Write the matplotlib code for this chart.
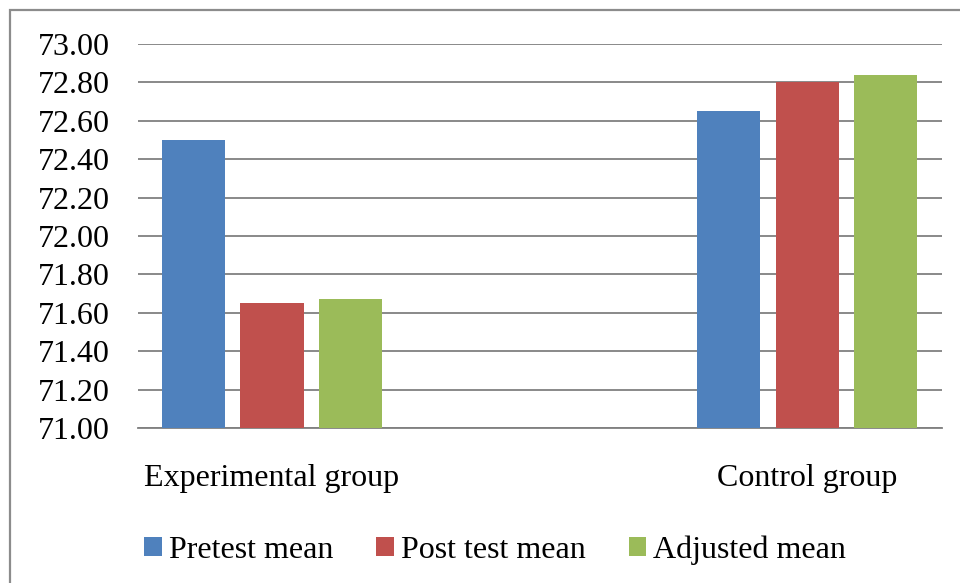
import matplotlib
matplotlib.use("Agg")
import matplotlib.pyplot as plt
import matplotlib.patches as mpatches
import numpy as np

groups = ["Experimental group", "Control group"]
series_names = ["Pretest mean", "Post test mean", "Adjusted mean"]
pretest = [72.50, 72.65]
posttest = [71.65, 72.80]
adjusted = [71.67, 72.84]
colors = ["#4F81BD", "#C0504D", "#9BBB59"]
yticks = [71.00, 71.20, 71.40, 71.60, 71.80, 72.00, 72.20, 72.40, 72.60, 72.80, 73.00]

plt.rcParams['font.family'] = ['Liberation Serif', 'DejaVu Serif']
FS = 23

W, H = 960, 583
fig = plt.figure(figsize=(W / 100, H / 100), dpi=100)
ax = fig.add_axes([138 / W, (H - 428) / H, 804 / W, 384 / H])

x = np.arange(len(groups))
width = 0.118
step = 0.147
base = 71.0
for i, (vals, name, c) in enumerate(zip([pretest, posttest, adjusted], series_names, colors)):
    ax.bar(x + (i - 1) * step, np.array(vals) - base, width=width, bottom=base,
           color=c, label=name, zorder=3)

ax.set_ylim(71.0, 73.0)
ax.set_xlim(-0.2505, 1.252)
ax.set_yticks(yticks)
ax.set_yticklabels([f"{v:.2f}" for v in yticks], fontsize=FS)
ax.set_xticks(x)
ax.set_xticklabels(groups, fontsize=FS)
ax.tick_params(axis='y', length=0, pad=20)
ax.tick_params(axis='x', length=0, pad=26)
ax.yaxis.grid(True, color="#808080", linewidth=1.3, zorder=0)
ax.set_axisbelow(True)
for s in ["left", "right", "top"]:
    ax.spines[s].set_visible(False)
ax.spines["bottom"].set_color("#808080")
ax.spines["bottom"].set_linewidth(1.3)

handles, labels = ax.get_legend_handles_labels()
fig.legend(handles, labels, loc="center", bbox_to_anchor=(495 / W, 1 - 550 / H),
           ncol=3, frameon=False, fontsize=FS, handlelength=0.55, handleheight=0.55,
           handletextpad=0.22, columnspacing=1.35, borderpad=0)

rect = mpatches.Rectangle((10 / W, -0.1), 1.2, 1.1 - 10 / H, transform=fig.transFigure,
                          fill=False, edgecolor="#8c8c8c", linewidth=1.6)
fig.add_artist(rect)

fig.savefig("out.png", dpi=100, facecolor="white")
